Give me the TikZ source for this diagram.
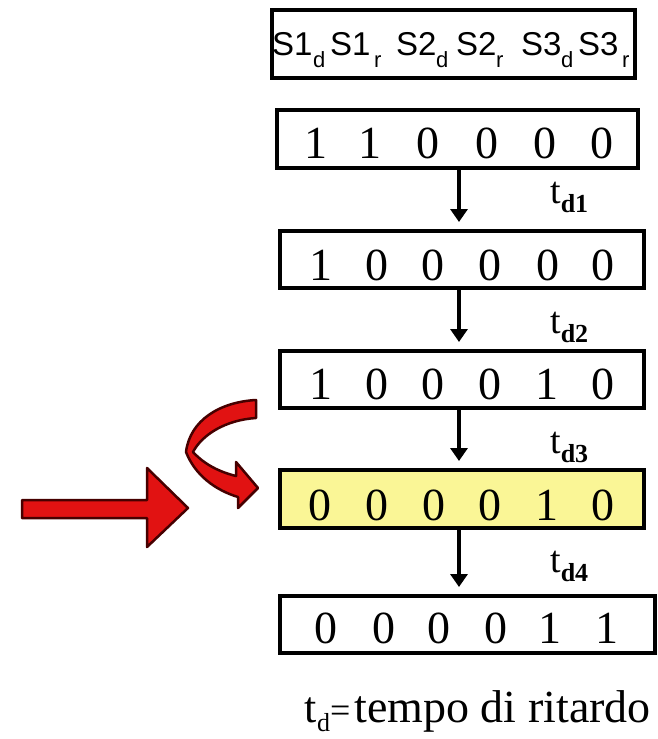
\documentclass[tikz,border=0pt]{standalone}
\usepackage{fontspec}
\setmainfont{Liberation Serif}
\newfontfamily\hdrfont{Liberation Sans}
\usetikzlibrary{arrows.meta}
\definecolor{boxyellow}{RGB}{250,246,150}
\definecolor{redfill}{RGB}{225,18,18}
\definecolor{redline}{RGB}{70,0,0}
\newcommand\tdl[1]{{\fontsize{38}{38}\selectfont t}\raisebox{-9pt}{\fontsize{26}{26}\selectfont\bfseries d#1}}
\tikzset{
  box/.style={draw=black, line width=4pt, inner sep=0pt, rectangle},
  dig/.style={inner sep=0pt, anchor=base, font=\fontsize{46}{46}\selectfont},
  hs/.style={inner sep=0pt, anchor=base west, font=\hdrfont\fontsize{33}{33}\selectfont},
  hsub/.style={inner sep=0pt, anchor=base west, font=\hdrfont\fontsize{22}{22}\selectfont},
  flowarr/.style={line width=4pt, -{Triangle[width=17pt,length=13pt]}, shorten >=7pt},
  tdlabel/.style={inner sep=0pt, anchor=base west},
  redshape/.style={fill=redfill, draw=redline, line width=2.5pt, line join=round}
}
\begin{document}
\begin{tikzpicture}[x=1pt,y=-1pt]
\useasboundingbox (0,0) rectangle (658,739);
% header
\node[box, minimum width=363pt, minimum height=68pt] (hdr) at (453.5,44) {};
\node[hs] (h1) at (272,55) {S1};   \node[hsub] (h1s) at (313,67) {d};
\node[hs] (h2) at (330,55) {S1};   \node[hsub] (h2s) at (374,67) {r};
\node[hs] (h3) at (396,55) {S2};   \node[hsub] (h3s) at (436,67) {d};
\node[hs] (h4) at (456,55) {S2};   \node[hsub] (h4s) at (496,67) {r};
\node[hs] (h5) at (521,55) {S3};   \node[hsub] (h5s) at (561,67) {d};
\node[hs] (h6) at (578,55) {S3};   \node[hsub] (h6s) at (622,67) {r};
% boxes
\node[box, minimum width=361pt, minimum height=58pt] (b1) at (457.5,139) {};
\node[box, minimum width=364pt, minimum height=57pt] (b2) at (462,259.5) {};
\node[box, minimum width=364pt, minimum height=57pt] (b3) at (462,379.5) {};
\node[box, fill=boxyellow, minimum width=364pt, minimum height=58pt] (b4) at (462,499) {};
\node[box, minimum width=375pt, minimum height=57pt] (b5) at (467.5,624.5) {};
% digits
\foreach \x/\v [count=\i] in {316/1,370/1,428/0,487/0,545/0,602/0}
  \node[dig] (b1d\i) at (\x,158) {\v};
\foreach \x/\v [count=\i] in {321/1,377/0,433/0,490/0,548/0,603/0}
  \node[dig] (b2d\i) at (\x,280) {\v};
\foreach \x/\v [count=\i] in {321/1,377/0,433/0,490/0,547/1,603/0}
  \node[dig] (b3d\i) at (\x,399) {\v};
\foreach \x/\v [count=\i] in {320/0,377/0,434/0,490/0,547/1,603/0}
  \node[dig] (b4d\i) at (\x,520) {\v};
\foreach \x/\v [count=\i] in {326/0,384/0,439/0,496/0,550/1,607/1}
  \node[dig] (b5d\i) at (\x,643) {\v};
% arrows
\coordinate (ax) at (459,0);
\draw[flowarr] (b1.south -| ax) -- (b2.north -| ax);
\draw[flowarr] (b2.south -| ax) -- (b3.north -| ax);
\draw[flowarr] (b3.south -| ax) -- (b4.north -| ax);
\draw[flowarr] (b4.south -| ax) -- (b5.north -| ax);
% delay labels
\node[tdlabel] (td1) at (550,203) {\tdl{1}};
\node[tdlabel] (td2) at (550,333) {\tdl{2}};
\node[tdlabel] (td3) at (550,453) {\tdl{3}};
\node[tdlabel] (td4) at (550,572) {\tdl{4}};
% footer
\node[inner sep=0pt, anchor=base east] (foot) at (651,722) {{\fontsize{44}{44}\selectfont t}\raisebox{-9pt}{\fontsize{26}{26}\selectfont d}{\fontsize{36}{36}\selectfont =}\kern4pt{\fontsize{46}{46}\selectfont tempo di ritardo}};
% red straight arrow
\draw[redshape] (22,500) -- (147,500) -- (147,468) -- (188,508) -- (147,547) -- (147,518) -- (22,518) -- cycle;
% red curved arrow
\draw[redshape] (256,400) -- (256,418)
  .. controls (225,420) and (202,435) .. (193,452)
  .. controls (205,465) and (220,472) .. (236,476)
  -- (236,462) -- (258,488) -- (238,508) -- (238,497)
  .. controls (215,490) and (195,475) .. (186,452)
  .. controls (190,420) and (220,402) .. (256,400) -- cycle;
\end{tikzpicture}
\end{document}
